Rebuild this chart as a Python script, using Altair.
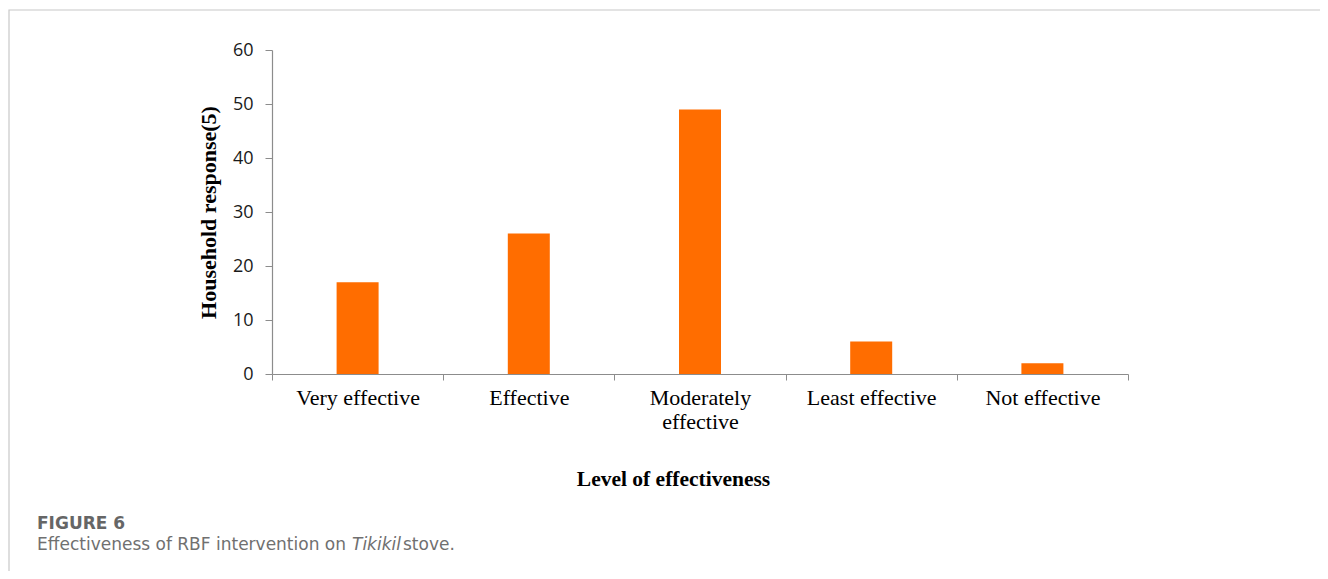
import altair as alt
import pandas as pd

categories = ["Very effective", "Effective", "Moderately effective", "Least effective", "Not effective"]
responses = [17, 26, 49, 6, 2]

df = pd.DataFrame({"level": categories, "value": responses})

# plot origin on page: (272, 50)
OX, OY = 272, 50

bars = alt.Chart(df).mark_bar(color="#FF6D00", size=42).encode(
    x=alt.X("level:N", sort=categories,
            scale=alt.Scale(paddingInner=0, paddingOuter=0),
            axis=alt.Axis(
                title="Level of effectiveness",
                titleFont="Liberation Serif", titleFontSize=21.5, titleFontWeight="bold",
                titleColor="#000000", titleX=673 - OX, titleY=111, titleAnchor="middle",
                titleBaseline="alphabetic", titleAlign="center",
                labelFont="Liberation Serif", labelFontSize=22, labelColor="#000000",
                labelAngle=0, labelPadding=7, labelLineHeight=24,
                labelExpr="datum.label == 'Moderately effective' ? ['Moderately', 'effective'] : datum.label",
                tickBand="extent", tickSize=6, tickColor="#8c8c8c",
                domainColor="#8c8c8c", domainWidth=1.2, grid=False)),
    y=alt.Y("value:Q", scale=alt.Scale(domain=[0, 60]),
            axis=alt.Axis(
                title="Household response(5)", values=[0, 10, 20, 30, 40, 50, 60],
                titleFont="Liberation Serif", titleFontSize=22, titleFontWeight="bold",
                titleColor="#000000", titlePadding=12,
                labelFont="Open Sans", labelFontSize=18, labelColor="#1a1a1a",
                labelPadding=12, tickSize=7, tickColor="#8c8c8c",
                domainColor="#8c8c8c", domainWidth=1.2, grid=False)),
)

frame = alt.Chart(pd.DataFrame({"a": [0]})).mark_rect(
    fill=None, stroke="#c8c8c8", strokeWidth=1.2, clip=False
).encode(x=alt.value(9 - OX), x2=alt.value(1327 - OX), y=alt.value(10 - OY), y2=alt.value(600 - OY))

caption_parts = ["FIGURE 6", "Effectiveness of RBF intervention on", "Tikikil", "stove."]

def cap(i, x, y, weight="normal", style="normal", color="#707070", size=17):
    return alt.Chart(pd.DataFrame({"t": [caption_parts[i]]})).mark_text(
        align="left", baseline="alphabetic", font="DejaVu Sans", fontSize=size,
        fontWeight=weight, fontStyle=style, color=color, clip=False
    ).encode(text="t:N", x=alt.value(x - OX), y=alt.value(y - OY))

chart = alt.layer(
    frame,
    bars,
    cap(0, 37, 529, weight="bold", color="#666666", size=17),
    cap(1, 37, 550),
    cap(2, 352, 550, style="italic"),
    cap(3, 403, 550),
).properties(
    width=856, height=324,
    autosize=alt.AutoSizeParams(type="none"),
    padding={"left": OX - 8, "top": OY - 8, "right": 1312 - (OX - 8) - 856, "bottom": 563 - (OY - 8) - 324},
).configure(background="#ffffff").configure_view(stroke=None, strokeWidth=0)

chart.save("out.html", embed_options={"renderer": "svg", "actions": False})
